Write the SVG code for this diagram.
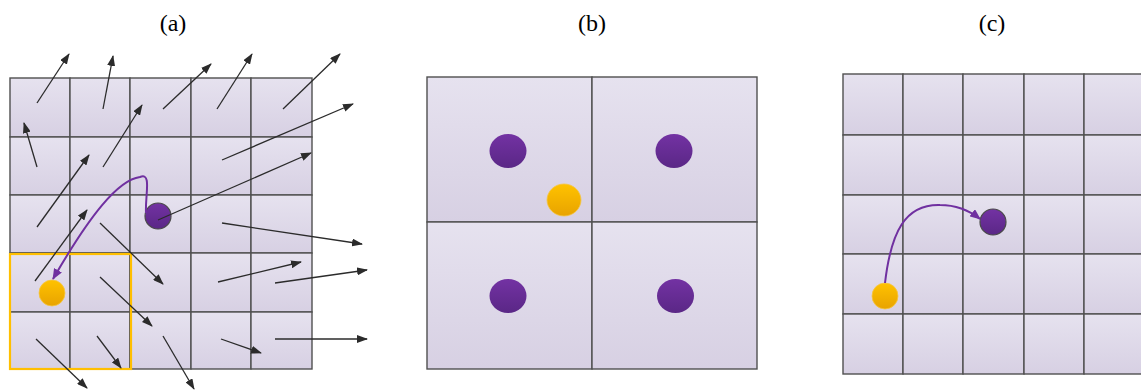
<svg xmlns="http://www.w3.org/2000/svg" width="1141" height="390" viewBox="0 0 1141 390">
<defs>
<linearGradient id="cellg" x1="0" y1="0" x2="0" y2="1">
<stop offset="0" stop-color="#e6e2ef"/>
<stop offset="1" stop-color="#d7d0e3"/>
</linearGradient>
<linearGradient id="purg" x1="0" y1="0" x2="0" y2="1">
<stop offset="0" stop-color="#7332a3"/>
<stop offset="1" stop-color="#5a2786"/>
</linearGradient>
<linearGradient id="orag" x1="0" y1="0" x2="0" y2="1">
<stop offset="0" stop-color="#ffc200"/>
<stop offset="1" stop-color="#e8a300"/>
</linearGradient>
<marker id="ah" markerUnits="userSpaceOnUse" markerWidth="11" markerHeight="8" refX="10" refY="4" orient="auto">
<path d="M0,0 L11,4 L0,8 z" fill="#2b2b2b"/>
</marker>
<marker id="ahp" markerUnits="userSpaceOnUse" markerWidth="11" markerHeight="9" refX="10" refY="4.5" orient="auto">
<path d="M0,0 L11,4.5 L0,9 z" fill="#7030a0"/>
</marker>
</defs>
<style>
.cell{fill:url(#cellg);stroke:#505050;stroke-width:1.4}
.lbl{font-family:"Liberation Serif","Times New Roman",serif;font-size:24px;fill:#000;text-anchor:middle}
.vec{stroke:#2b2b2b;stroke-width:1.3;fill:none;marker-end:url(#ah)}
.path{stroke:#7030a0;stroke-width:2;fill:none;marker-end:url(#ahp)}
.pball{fill:url(#purg)}
.pballs{fill:url(#purg);stroke:#4a4a4a;stroke-width:1.2}
.oball{fill:url(#orag);stroke:#f5c542;stroke-width:0.8}
</style>
<rect width="1141" height="390" fill="#ffffff"/>

<text class="lbl" x="173" y="31">(a)</text>
<text class="lbl" x="592" y="31">(b)</text>
<text class="lbl" x="992" y="31">(c)</text>

<g id="gridA">
<rect class="cell" x="10" y="78" width="60" height="59"/>
<rect class="cell" x="70" y="78" width="60" height="59"/>
<rect class="cell" x="130" y="78" width="61" height="59"/>
<rect class="cell" x="191" y="78" width="60" height="59"/>
<rect class="cell" x="251" y="78" width="61" height="59"/>
<rect class="cell" x="10" y="137" width="60" height="58"/>
<rect class="cell" x="70" y="137" width="60" height="58"/>
<rect class="cell" x="130" y="137" width="61" height="58"/>
<rect class="cell" x="191" y="137" width="60" height="58"/>
<rect class="cell" x="251" y="137" width="61" height="58"/>
<rect class="cell" x="10" y="195" width="60" height="58"/>
<rect class="cell" x="70" y="195" width="60" height="58"/>
<rect class="cell" x="130" y="195" width="61" height="58"/>
<rect class="cell" x="191" y="195" width="60" height="58"/>
<rect class="cell" x="251" y="195" width="61" height="58"/>
<rect class="cell" x="10" y="253" width="60" height="59"/>
<rect class="cell" x="70" y="253" width="60" height="59"/>
<rect class="cell" x="130" y="253" width="61" height="59"/>
<rect class="cell" x="191" y="253" width="60" height="59"/>
<rect class="cell" x="251" y="253" width="61" height="59"/>
<rect class="cell" x="10" y="312" width="60" height="57"/>
<rect class="cell" x="70" y="312" width="60" height="57"/>
<rect class="cell" x="130" y="312" width="61" height="57"/>
<rect class="cell" x="191" y="312" width="60" height="57"/>
<rect class="cell" x="251" y="312" width="61" height="57"/>
</g>
<g id="highlightA">
<rect x="10" y="254" width="121" height="115" fill="none" stroke="#ffbf00" stroke-width="2.2"/>
</g>
<g id="ballsA">
<circle id="purpleA" class="pballs" cx="158" cy="216" r="13"/>
<circle id="orangeA" class="oball" cx="52" cy="293" r="13"/>
</g>

<g id="gridB">
<rect class="cell" x="427" y="77" width="165" height="145"/>
<rect class="cell" x="592" y="77" width="165" height="145"/>
<rect class="cell" x="427" y="222" width="165" height="147"/>
<rect class="cell" x="592" y="222" width="165" height="147"/>
</g>
<g id="ballsB">
<ellipse class="pball" cx="508" cy="151" rx="18.5" ry="17"/>
<ellipse class="pball" cx="674" cy="151" rx="18.5" ry="17"/>
<ellipse class="pball" cx="508" cy="296" rx="18.5" ry="17"/>
<ellipse class="pball" cx="675.5" cy="296" rx="18.5" ry="17"/>
<ellipse class="oball" cx="564" cy="200" rx="17" ry="16"/>
</g>

<g id="gridC">
<rect class="cell" x="843" y="74" width="60" height="61"/>
<rect class="cell" x="903" y="74" width="60" height="61"/>
<rect class="cell" x="963" y="74" width="61" height="61"/>
<rect class="cell" x="1024" y="74" width="60" height="61"/>
<rect class="cell" x="1084" y="74" width="60" height="61"/>
<rect class="cell" x="843" y="135" width="60" height="60"/>
<rect class="cell" x="903" y="135" width="60" height="60"/>
<rect class="cell" x="963" y="135" width="61" height="60"/>
<rect class="cell" x="1024" y="135" width="60" height="60"/>
<rect class="cell" x="1084" y="135" width="60" height="60"/>
<rect class="cell" x="843" y="195" width="60" height="59"/>
<rect class="cell" x="903" y="195" width="60" height="59"/>
<rect class="cell" x="963" y="195" width="61" height="59"/>
<rect class="cell" x="1024" y="195" width="60" height="59"/>
<rect class="cell" x="1084" y="195" width="60" height="59"/>
<rect class="cell" x="843" y="254" width="60" height="60"/>
<rect class="cell" x="903" y="254" width="60" height="60"/>
<rect class="cell" x="963" y="254" width="61" height="60"/>
<rect class="cell" x="1024" y="254" width="60" height="60"/>
<rect class="cell" x="1084" y="254" width="60" height="60"/>
<rect class="cell" x="843" y="314" width="60" height="60"/>
<rect class="cell" x="903" y="314" width="60" height="60"/>
<rect class="cell" x="963" y="314" width="61" height="60"/>
<rect class="cell" x="1024" y="314" width="60" height="60"/>
<rect class="cell" x="1084" y="314" width="60" height="60"/>
</g>
<g id="ballsC">
<circle id="purpleC" class="pballs" cx="993" cy="222" r="13"/>
<circle id="orangeC" class="oball" cx="885" cy="296" r="13"/>
</g>

<g id="connectors">
<line class="vec" x1="37" y1="103" x2="69" y2="54"/>
<line class="vec" x1="103" y1="109" x2="113" y2="56"/>
<line class="vec" x1="163" y1="109" x2="211" y2="64"/>
<line class="vec" x1="217" y1="109" x2="252" y2="54"/>
<line class="vec" x1="283" y1="109" x2="340" y2="54"/>
<line class="vec" x1="37" y1="167" x2="24" y2="123"/>
<line class="vec" x1="103" y1="167" x2="142" y2="105"/>
<line class="vec" x1="222" y1="160" x2="353" y2="104"/>
<line class="vec" x1="37" y1="227" x2="89" y2="155"/>
<line class="vec" x1="158" y1="220" x2="311" y2="153"/>
<line class="vec" x1="100" y1="223" x2="163" y2="284"/>
<line class="vec" x1="222" y1="223" x2="362" y2="244"/>
<line class="vec" x1="35" y1="281" x2="87" y2="210"/>
<line class="vec" x1="100" y1="277" x2="152" y2="326"/>
<line class="vec" x1="218" y1="282" x2="301" y2="262"/>
<line class="vec" x1="275" y1="283" x2="367" y2="270"/>
<line class="vec" x1="36" y1="339" x2="87" y2="388"/>
<line class="vec" x1="97" y1="336" x2="121" y2="368"/>
<line class="vec" x1="163" y1="336" x2="194" y2="389"/>
<line class="vec" x1="221" y1="339" x2="261" y2="353"/>
<line class="vec" x1="275" y1="339" x2="367" y2="339"/>
<path class="path" d="M146,213 C145,195 152,172 140,177 C118,180 90,215 53,279"/>
<path class="path" d="M885,283 C891,232 905,204 940,205 C958,205 970,211 980,219"/>
</g>
</svg>
